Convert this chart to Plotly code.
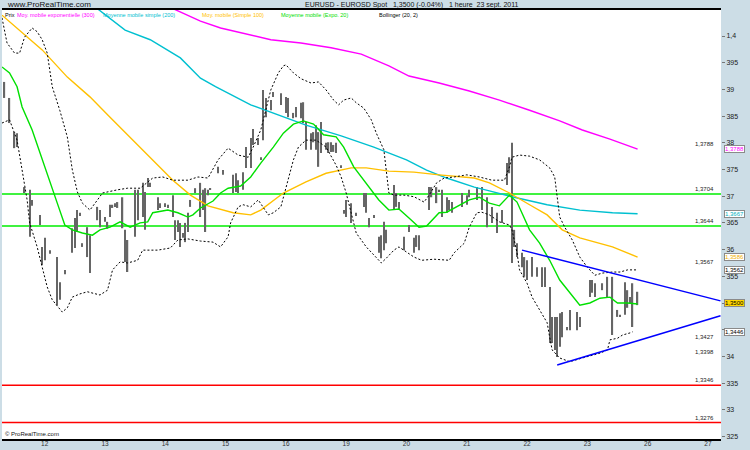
import plotly.graph_objects as go

# ---------------- data ----------------
day_labels = ["12", "13", "14", "15", "16", "19", "20", "21", "22", "23", "26", "27"]
day_hours = [0, 24, 48, 72, 96, 120, 144, 168, 192, 216, 240, 264]

price_ticks = [1.325, 1.33, 1.335, 1.34, 1.345, 1.35, 1.355, 1.36, 1.365, 1.37,
               1.375, 1.38, 1.385, 1.39, 1.395, 1.4]
# labels at 1,345 and 1,35 are hidden behind the value boxes in the original
price_tick_text = ["325", "33", "335", "34", "", "", "355", "36", "365", "37",
                   "375", "38", "385", "39", "395", "1,4"]

bar_hour = [-16, -14, -12, -11, -8, -6, -5, -2, -1, 0, 2, 5, 6, 8, 11, 12, 13, 14, 15, 17,
            18, 21, 22, 24, 25, 26, 27, 28, 29, 31, 32, 33, 36, 37, 39, 40, 41, 42, 45, 46,
            48, 49, 51, 52, 53, 54, 55, 56, 57, 58, 60, 62, 63, 64, 65, 66, 69, 71, 75, 76,
            77, 79, 80, 82, 83, 85, 86, 87, 88, 90, 91, 94, 96, 97, 99, 100, 102, 103, 104, 106,
            107, 108, 109, 110, 112, 113, 114, 115, 116, 118, 119, 120, 122, 124, 127, 128, 129, 131, 133, 134,
            135, 136, 139, 140, 141, 143, 145, 147, 148, 149, 153, 154, 156, 157, 158, 160, 161, 162, 166, 168,
            169, 172, 174, 176, 178, 180, 182, 184, 185, 186, 187, 188, 190, 191, 192, 194, 196, 198, 199, 201,
            202, 203, 204, 205, 206, 208, 209, 212, 213, 217, 218, 219, 222, 224, 226, 228, 229, 231, 232, 233,
            234, 236]
bar_high = [1.3914, 1.3884, 1.3820, 1.3818, 1.3717, 1.3712, 1.3693, 1.3665, 1.3605, 1.3622, 1.3599, 1.3586, 1.3539, 1.3562, 1.3640, 1.3659, 1.3674, 1.3669, 1.3612, 1.3642,
            1.3627, 1.3680, 1.3674, 1.3661, 1.3652, 1.3684, 1.3684, 1.3687, 1.3689, 1.3698, 1.3637, 1.3618, 1.3712, 1.3712, 1.3725, 1.3708, 1.3734, 1.3725, 1.3698, 1.3687,
            1.3687, 1.3684, 1.3702, 1.3655, 1.3655, 1.3650, 1.3631, 1.3650, 1.3669, 1.3693, 1.3715, 1.3725, 1.3712, 1.3715, 1.3712, 1.3715, 1.3755, 1.3749, 1.3740, 1.3743,
            1.3730, 1.3745, 1.3792, 1.3809, 1.3826, 1.3809, 1.3773, 1.3899, 1.3884, 1.3880, 1.3895, 1.3893, 1.3886, 1.3884, 1.3856, 1.3867, 1.3875, 1.3876, 1.3839, 1.3818,
            1.3820, 1.3833, 1.3820, 1.3839, 1.3800, 1.3801, 1.3801, 1.3796, 1.3800, 1.3758, 1.3674, 1.3693, 1.3687, 1.3669, 1.3706, 1.3706, 1.3659, 1.3665, 1.3624, 1.3627,
            1.3652, 1.3637, 1.3721, 1.3706, 1.3689, 1.3624, 1.3646, 1.3622, 1.3627, 1.3627, 1.3717, 1.3717, 1.3717, 1.3712, 1.3712, 1.3698, 1.3693, 1.3689, 1.3706, 1.3702,
            1.3712, 1.3717, 1.3717, 1.3698, 1.3680, 1.3669, 1.3674, 1.3762, 1.3773, 1.3800, 1.3637, 1.3612, 1.3594, 1.3586, 1.3580, 1.3586, 1.3567, 1.3567, 1.3567, 1.3530,
            1.3474, 1.3474, 1.3474, 1.3481, 1.3483, 1.3455, 1.3487, 1.3483, 1.3474, 1.3543, 1.3543, 1.3537, 1.3537, 1.3549, 1.3549, 1.3487, 1.3478, 1.3539, 1.3524, 1.3511,
            1.3537, 1.3521]
bar_low = [1.3884, 1.3837, 1.3790, 1.3792, 1.3706, 1.3624, 1.3682, 1.3646, 1.3571, 1.3580, 1.3592, 1.3496, 1.3506, 1.3554, 1.3594, 1.3603, 1.3633, 1.3663, 1.3605, 1.3586,
           1.3556, 1.3655, 1.3642, 1.3652, 1.3639, 1.3661, 1.3678, 1.3680, 1.3678, 1.3640, 1.3577, 1.3558, 1.3624, 1.3655, 1.3661, 1.3637, 1.3717, 1.3717, 1.3674, 1.3678,
           1.3680, 1.3678, 1.3661, 1.3618, 1.3633, 1.3605, 1.3622, 1.3614, 1.3633, 1.3680, 1.3706, 1.3661, 1.3674, 1.3633, 1.3702, 1.3712, 1.3743, 1.3740, 1.3706, 1.3708,
           1.3706, 1.3712, 1.3753, 1.3753, 1.3796, 1.3796, 1.3768, 1.3805, 1.3848, 1.3861, 1.3886, 1.3871, 1.3856, 1.3848, 1.3846, 1.3848, 1.3846, 1.3837, 1.3787, 1.3787,
           1.3801, 1.3787, 1.3755, 1.3781, 1.3787, 1.3781, 1.3783, 1.3783, 1.3781, 1.3753, 1.3667, 1.3661, 1.3650, 1.3663, 1.3680, 1.3669, 1.3642, 1.3659, 1.3594, 1.3584,
           1.3599, 1.3612, 1.3674, 1.3680, 1.3674, 1.3599, 1.3633, 1.3594, 1.3605, 1.3599, 1.3674, 1.3698, 1.3687, 1.3708, 1.3661, 1.3669, 1.3674, 1.3669, 1.3680, 1.3684,
           1.3698, 1.3693, 1.3674, 1.3642, 1.3650, 1.3631, 1.3650, 1.3721, 1.3743, 1.3575, 1.3605, 1.3586, 1.3567, 1.3549, 1.3543, 1.3549, 1.3549, 1.3530, 1.3530, 1.3425,
           1.3425, 1.3412, 1.3399, 1.3418, 1.3436, 1.3449, 1.3449, 1.3449, 1.3455, 1.3511, 1.3519, 1.3511, 1.3524, 1.3511, 1.3440, 1.3474, 1.3474, 1.3478, 1.3491, 1.3500,
           1.3455, 1.3496]
last_price = 1.3500

ema20_hour = [-17, -14, -11, -9, -5, -1, 2, 5, 8, 11, 15, 19, 22, 26, 30, 34, 38, 41, 43, 49,
              53, 57, 59, 62, 67, 70, 73, 78, 82, 86, 91, 95, 99, 103, 107, 111, 116, 119, 123, 128,
              133, 137, 141, 145, 149, 152, 157, 160, 164, 169, 173, 177, 181, 185, 188, 190, 193, 197, 201, 205,
              209, 213, 217, 221, 225, 228, 232, 236]
ema20 = [1.3942, 1.3931, 1.3905, 1.3867, 1.3824, 1.3768, 1.3725, 1.3687, 1.3646, 1.3637, 1.3631, 1.3627, 1.3637, 1.3642, 1.3652, 1.3642, 1.3650, 1.3652, 1.3669, 1.3674,
         1.3669, 1.3661, 1.3665, 1.3678, 1.3691, 1.3706, 1.3715, 1.3719, 1.3736, 1.3762, 1.3792, 1.3818, 1.3835, 1.3841, 1.3835, 1.3815, 1.3811, 1.3792, 1.3755, 1.3725,
         1.3693, 1.3674, 1.3676, 1.3659, 1.3642, 1.3644, 1.3669, 1.3670, 1.3680, 1.3693, 1.3698, 1.3687, 1.3682, 1.3702, 1.3689, 1.3669, 1.3637, 1.3612, 1.3580, 1.3543,
         1.3519, 1.3496, 1.3500, 1.3509, 1.3511, 1.3500, 1.3500, 1.3498]

ma100_hour = [-17, -10, -1, 9, 18, 26, 35, 42, 51, 58, 65, 75, 82, 86, 95, 104, 112, 122, 128, 137,
              147, 157, 171, 177, 185, 193, 200, 206, 213, 226, 236]
ma100 = [1.4039, 1.4011, 1.3974, 1.3923, 1.3886, 1.3848, 1.3805, 1.3773, 1.3730, 1.3702, 1.3682, 1.3669, 1.3665, 1.3674, 1.3706, 1.3727, 1.3743, 1.3753, 1.3753, 1.3747,
         1.3745, 1.3740, 1.3734, 1.3725, 1.3706, 1.3684, 1.3665, 1.3637, 1.3622, 1.3605, 1.3586]

ma200_hour = [18, 22, 32, 42, 54, 62, 68, 82, 91, 104, 118, 131, 144, 152, 160, 171, 177, 186, 200, 213, 226, 236]
ma200 = [1.4062, 1.4047, 1.4011, 1.3993, 1.3959, 1.3921, 1.3905, 1.3871, 1.3856, 1.3833, 1.3813, 1.3792, 1.3768, 1.3749, 1.3734, 1.3717, 1.3710, 1.3699, 1.3684, 1.3674,
         1.3669, 1.3667]

ma300_hour = [46, 53, 62, 70, 78, 90, 102, 114, 126, 137, 145, 157, 169, 181, 193, 205, 214, 225, 236]
ma300 = [1.4062, 1.4047, 1.4028, 1.4015, 1.4006, 1.3993, 1.3987, 1.3978, 1.3966, 1.3944, 1.3925, 1.3912, 1.3897, 1.3880, 1.3861, 1.3841, 1.3824, 1.3807, 1.3788]

boll_up_hour = [-17, -15, -12, -10, -8, -5, -3, -1, 1, 3, 6, 9, 11, 13, 15, 18, 21, 23, 29, 33,
                38, 43, 47, 51, 57, 61, 65, 69, 73, 77, 81, 83, 86, 88, 90, 93, 95, 96, 99, 102,
                106, 109, 112, 115, 117, 119, 122, 124, 127, 130, 132, 135, 136, 137, 139, 143, 147, 151, 153, 156,
                159, 163, 168, 173, 178, 183, 185, 186, 189, 193, 197, 201, 203, 204, 205, 207, 210, 213, 216, 219,
                222, 226, 229, 232, 236]
boll_up = [1.4034, 1.3987, 1.3968, 1.3968, 1.3998, 1.4015, 1.4008, 1.3993, 1.3968, 1.3905, 1.3861, 1.3811, 1.3749, 1.3708, 1.3687, 1.3674, 1.3693, 1.3706, 1.3712, 1.3715,
           1.3715, 1.3734, 1.3736, 1.3730, 1.3730, 1.3736, 1.3734, 1.3768, 1.3790, 1.3777, 1.3773, 1.3792, 1.3824, 1.3861, 1.3899, 1.3931, 1.3944, 1.3946, 1.3931, 1.3920,
           1.3912, 1.3914, 1.3899, 1.3880, 1.3871, 1.3880, 1.3884, 1.3875, 1.3865, 1.3843, 1.3818, 1.3787, 1.3749, 1.3706, 1.3702, 1.3702, 1.3699, 1.3689, 1.3702, 1.3725,
           1.3734, 1.3736, 1.3740, 1.3736, 1.3730, 1.3730, 1.3755, 1.3773, 1.3777, 1.3775, 1.3768, 1.3753, 1.3736, 1.3699, 1.3661, 1.3642, 1.3618, 1.3586, 1.3567, 1.3552,
           1.3556, 1.3558, 1.3558, 1.3562, 1.3562]

boll_lo_hour = [-17, -14, -11, -9, -7, -6, -3, -1, 1, 3, 7, 9, 11, 14, 17, 22, 25, 27, 30, 33,
                37, 39, 45, 50, 53, 57, 62, 67, 70, 73, 74, 77, 79, 82, 85, 89, 91, 94, 96, 99,
                101, 104, 108, 112, 116, 118, 120, 122, 124, 128, 132, 134, 136, 139, 141, 143, 147, 150, 155, 161,
                163, 167, 169, 172, 174, 177, 181, 185, 186, 188, 189, 192, 194, 197, 200, 201, 202, 205, 209, 214,
                221, 224, 225, 228, 230, 233, 234]
boll_lo = [1.3837, 1.3843, 1.3805, 1.3749, 1.3693, 1.3650, 1.3605, 1.3567, 1.3530, 1.3506, 1.3483, 1.3491, 1.3511, 1.3517, 1.3521, 1.3515, 1.3524, 1.3562, 1.3577, 1.3575,
           1.3580, 1.3599, 1.3599, 1.3603, 1.3618, 1.3620, 1.3616, 1.3614, 1.3605, 1.3624, 1.3650, 1.3680, 1.3684, 1.3680, 1.3693, 1.3665, 1.3669, 1.3680, 1.3717, 1.3768,
           1.3792, 1.3805, 1.3805, 1.3792, 1.3758, 1.3736, 1.3706, 1.3669, 1.3631, 1.3605, 1.3584, 1.3575, 1.3584, 1.3599, 1.3605, 1.3599, 1.3586, 1.3580, 1.3582, 1.3580,
           1.3594, 1.3612, 1.3642, 1.3669, 1.3670, 1.3665, 1.3652, 1.3646, 1.3637, 1.3594, 1.3562, 1.3537, 1.3511, 1.3487, 1.3463, 1.3436, 1.3412, 1.3397, 1.3390, 1.3397,
           1.3406, 1.3412, 1.3431, 1.3434, 1.3440, 1.3444, 1.3446]

trend_up_hour = [190, 269]
trend_up = [1.3599, 1.3504]
trend_lo_hour = [204, 269]
trend_lo = [1.3384, 1.3476]

green_levels = [1.3704, 1.3644]
red_levels = [1.3346, 1.3276]
level_labels = [1.3788, 1.3704, 1.3644, 1.3567, 1.3427, 1.3398, 1.3346, 1.3276]

legend_texts = ["Prix", "Moy. mobile exponentielle (300)", "Moyenne mobile simple (200)",
                "Moy. mobile (Simple 100)", "Moyenne mobile (Expo. 20)", "Bollinger (20, 2)"]
legend_colors = ["#000000", "#FF00FF", "#00C0D0", "#FFC000", "#00DD00", "#000000"]

# ---------------- figure ----------------
def fmt(v):
    return f"{v:.4f}".replace(".", ",")

fig = go.Figure()

fig.add_trace(go.Bar(x=bar_hour, base=bar_low, y=[h - l for h, l in zip(bar_high, bar_low)],
                     width=0.5, marker=dict(color="#666666", line=dict(width=0)), hoverinfo="skip"))

def line(x, y, color, width=1.4, dash=None):
    fig.add_trace(go.Scatter(x=x, y=y, mode="lines", hoverinfo="skip",
                             line=dict(color=color, width=width, dash=dash)))

line(ma300_hour, ma300, "#FF00FF")
line(ma200_hour, ma200, "#00C0D0")
line(ma100_hour, ma100, "#FFC000")
line(boll_up_hour, boll_up, "#000000", 1, "2px,2px")
line(boll_lo_hour, boll_lo, "#000000", 1, "2px,2px")
line(ema20_hour, ema20, "#00E000")
line(trend_up_hour, trend_up, "#0000FF", 1.5)
line(trend_lo_hour, trend_lo, "#0000FF", 1.5)

shapes = []
for lv in green_levels:
    shapes.append(dict(type="line", xref="paper", x0=0, x1=1, y0=lv, y1=lv, layer="below",
                       line=dict(color="#00EE00", width=1.5)))
for lv in red_levels:
    shapes.append(dict(type="line", xref="paper", x0=0, x1=1, y0=lv, y1=lv, layer="below",
                       line=dict(color="#FF0000", width=1.5)))

ann = []
FONT = "Liberation Sans"
# header bar
ann.append(dict(text="www.ProRealTime.com", xref="paper", yref="paper", x=0.004, y=1.0117,
                xanchor="left", yanchor="middle", showarrow=False,
                font=dict(size=8, color="#111", family=FONT)))
ann.append(dict(text="EURUSD - EUROSD Spot&nbsp;&nbsp;&nbsp;1,3500 (-0.04%)&nbsp;&nbsp;&nbsp;1 heure&nbsp;&nbsp;23 sept. 2011",
                xref="paper", yref="paper", x=0.57, y=1.0117, xanchor="center", yanchor="middle",
                showarrow=False, font=dict(size=7, color="#111", family=FONT)))
# indicator legend row
leg_x = [3, 15, 101, 200, 279, 377]
for t, c, px in zip(legend_texts, legend_colors, leg_x):
    ann.append(dict(text=t, xref="paper", yref="paper", x=(px - 2) / 719, y=0.988,
                    xanchor="left", yanchor="middle", showarrow=False,
                    font=dict(size=5.5, color=c, family=FONT)))
ann.append(dict(text="© ProRealTime.com", xref="paper", yref="paper", x=0.002, y=0.012,
                xanchor="left", yanchor="middle", showarrow=False,
                font=dict(size=6, color="#111", family=FONT)))
# level labels inside plot
for lv in level_labels:
    ann.append(dict(text=fmt(lv), xref="paper", yref="y", x=0.993, y=lv, xanchor="right",
                    yanchor="bottom", showarrow=False,
                    font=dict(size=6, color="#222", family=FONT)))
# value boxes on the right axis
boxes = [(ma300[-1], "#FF00FF", "white"), (ma200[-1], "#00B0C0", "white"),
         (ma100[-1], "#F0B000", "white"), (boll_up[-1], "#000000", "white"),
         (last_price, "#000000", "#FFD700"), (boll_lo[-1], "#000000", "white")]
for v, c, bg in boxes:
    ann.append(dict(text=fmt(v), xref="paper", yref="y", x=1.0042, y=v, xanchor="left",
                    yanchor="middle", showarrow=False, bgcolor=bg, bordercolor="#8A8A8A",
                    borderwidth=1, borderpad=0,
                    font=dict(size=6, color=c, family=FONT)))

fig.update_layout(
    width=750, height=450,
    margin=dict(l=2, r=29, t=10, b=11, autoexpand=False),
    paper_bgcolor="#CCDDE6", plot_bgcolor="white",
    showlegend=False, barmode="overlay",
    shapes=shapes, annotations=ann,
    xaxis=dict(range=[-17, 269.2], tickvals=day_hours, ticktext=day_labels,
               showgrid=False, zeroline=False, showline=True, linecolor="black",
               linewidth=1.5, mirror=True, ticks="", automargin=False,
               ticklabelstandoff=-3,
               tickfont=dict(size=6.5, color="#333", family=FONT)),
    yaxis=dict(side="right", range=[1.32453, 1.40487], tickvals=price_ticks,
               ticktext=price_tick_text, showgrid=False, zeroline=False, showline=False,
               ticks="outside", ticklen=3, tickcolor="#777", automargin=False,
               tickfont=dict(size=7, color="#222", family=FONT)),
)

fig.write_html("out.html", config={"displayModeBar": False},
               post_script="document.body.style.margin='0px';document.body.style.overflow='hidden';")
